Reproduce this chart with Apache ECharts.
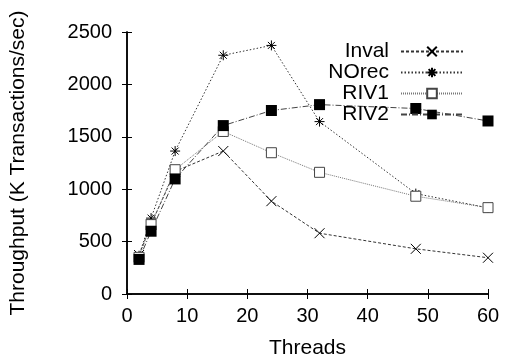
<!DOCTYPE html>
<html style="height: 100%">
<head>
<meta charset="utf-8">
<title>Throughput</title>
</head>
<body style="height: 100%; margin: 0; background: #fff">
<div id="container" style="width: 510px; height: 364px"></div>
<script type="text/javascript" src="https://cdn.jsdelivr.net/npm/echarts@6.0.0/dist/echarts.min.js"></script>
<script type="text/javascript">
var threads = [2, 4, 8, 16, 24, 32, 48, 60];
var inval = [372, 665, 1170, 1364, 886, 580, 431, 346];
var norec = [365, 724, 1364, 2278, 2372, 1645, 958, 822];
var riv1 = [350, 662, 1186, 1551, 1348, 1161, 933, 824];
var riv2 = [330, 599, 1098, 1607, 1751, 1807, 1770, 1651];

var font = 'Liberation Sans';

function pairs(ys) {
    return threads.map(function (t, i) { return [t, ys[i]]; });
}

var crossSym = 'path://M0,0L10,10M10,0L0,10';
var starSym = 'path://M0,5L10,5M5,0L5,10M1.5,1.5L8.5,8.5M8.5,1.5L1.5,8.5';

var dom = document.getElementById('container');
var myChart = echarts.init(dom, null, { renderer: 'canvas' });

function mirrorAxis(pos, max, interval) {
    return {
        type: 'value', position: pos, min: 0, max: max, interval: interval,
        axisLine: { show: true, lineStyle: { color: '#000', width: 1.5 } },
        axisTick: { show: true, inside: true, length: 5, lineStyle: { color: '#000' } },
        axisLabel: { show: false },
        splitLine: { show: false }
    };
}

// plain numbers, no thousands separator
function plain(v) { return String(v); }

var option = {
    animation: false,
    backgroundColor: '#fff',
    grid: { left: 127, right: 22, top: 32, bottom: 65 },
    legend: {
        orient: 'vertical',
        right: 41,
        top: 36,
        align: 'right',
        itemWidth: 62,
        itemHeight: 12,
        itemGap: 0,
        textStyle: { fontFamily: font, fontSize: 21, color: '#000', lineHeight: 19, padding: [0, 7, 0, 0] },
        data: ['Inval', 'NOrec', 'RIV1', 'RIV2']
    },
    xAxis: [{
        type: 'value', min: 0, max: 60, interval: 10,
        name: 'Threads', nameLocation: 'middle', nameGap: 44,
        nameTextStyle: { fontFamily: font, fontSize: 21, color: '#000' },
        axisLine: { show: true, lineStyle: { color: '#000', width: 1.5 } },
        axisTick: { show: true, inside: true, length: 5, lineStyle: { color: '#000' } },
        axisLabel: { fontFamily: font, fontSize: 20, color: '#000', margin: 12, formatter: plain },
        splitLine: { show: false }
    }, mirrorAxis('top', 60, 10)],
    yAxis: [{
        type: 'value', min: 0, max: 2500, interval: 500,
        name: 'Throughput (K Transactions/sec)', nameLocation: 'middle', nameGap: 98,
        nameTextStyle: { fontFamily: font, fontSize: 21, color: '#000' },
        axisLine: { show: true, lineStyle: { color: '#000', width: 1.5 } },
        axisTick: { show: true, inside: true, length: 5, lineStyle: { color: '#000' } },
        axisLabel: { fontFamily: font, fontSize: 20, color: '#000', margin: 15, formatter: plain },
        splitLine: { show: false }
    }, mirrorAxis('right', 2500, 500)],
    series: [{
        name: 'Inval', type: 'line', data: pairs(inval),
        symbol: crossSym, symbolSize: 10,
        lineStyle: { color: '#333', width: 1, type: [3, 2] },
        itemStyle: { color: 'rgba(0,0,0,0)', borderColor: '#000', borderWidth: 1 }
    }, {
        name: 'NOrec', type: 'line', data: pairs(norec),
        symbol: starSym, symbolSize: 10,
        lineStyle: { color: '#333', width: 1, type: [1.5, 2] },
        itemStyle: { color: 'rgba(0,0,0,0)', borderColor: '#000', borderWidth: 1 }
    }, {
        name: 'RIV1', type: 'line', data: pairs(riv1),
        symbol: 'rect', symbolSize: 10,
        lineStyle: { color: '#777', width: 1, type: [1, 1] },
        itemStyle: { color: '#fff', borderColor: '#444', borderWidth: 1 }
    }, {
        name: 'RIV2', type: 'line', data: pairs(riv2),
        symbol: 'rect', symbolSize: 11,
        lineStyle: { color: '#444', width: 1, type: [6, 2, 1, 2] },
        itemStyle: { color: '#000', borderColor: '#000', borderWidth: 0 }
    }]
};

myChart.setOption(option);
</script>
</body>
</html>
